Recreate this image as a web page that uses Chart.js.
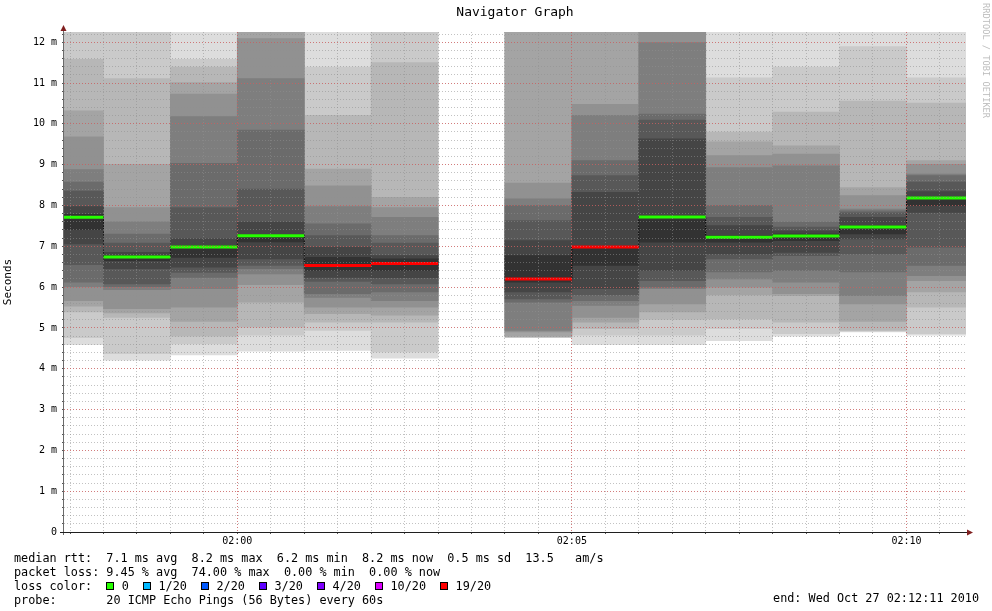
<!DOCTYPE html>
<html>
<head>
<meta charset="utf-8">
<title>Navigator Graph</title>
<script src="https://cdn.jsdelivr.net/npm/chart.js@4.4.1/dist/chart.umd.min.js"></script>
<style>
  body { margin: 0; background: #fff; }
  #wrap { position: relative; width: 992px; height: 611px; overflow: hidden; font-family: 'DejaVu Sans Mono', monospace; }
  #graph { position: absolute; left: 0; top: 0; }
  .line { position: absolute; left: 14px; font-size: 11.8px; line-height: 14px; white-space: pre; color: #000; }
  .sq { display: inline-block; width: 8px; height: 8px; border: 1px solid #000; box-sizing: border-box; margin-right: 7.4px; }
  #end { position: absolute; right: 13px; top: 591px; font-size: 11.8px; line-height: 14px; white-space: pre; }
  #watermark { position: absolute; left: 991px; top: 3px; font-size: 8.7px; line-height: 10px; color: #bdbdbd;
               white-space: pre; transform: rotate(90deg); transform-origin: left top; }
</style>
</head>
<body>
<div id="wrap">
  <canvas id="graph" width="992" height="611"></canvas>
  <div id="legend"></div>
  <div id="end">end: Wed Oct 27 02:12:11 2010</div>
  <div id="watermark">RRDTOOL / TOBI OETIKER</div>
</div>
<script>
// one column per minute (minutes after midnight), smoke = 20 sorted pings in ms
const columnStart = [117, 118, 119, 120, 121, 122, 123, 124, 125, 126, 127, 128, 129, 130];
const pings = [
  [4.59, 4.76, 5.39, 5.53, 5.67, 6.01, 6.12, 6.55, 7.06, 7.41, 7.78, 7.97, 8.35, 8.57, 8.88, 9.68, 10.32, 11.58, 12.5, 13.0],
  [4.21, 4.37, 5.26, 5.37, 5.47, 5.94, 6.01, 6.08, 6.45, 6.65, 6.77, 6.85, 7.08, 7.30, 7.60, 7.95, 9.01, 11.11, 12.4, 13.0],
  [4.34, 4.61, 4.80, 5.16, 5.51, 5.96, 6.24, 6.36, 6.49, 6.73, 7.02, 7.18, 7.95, 9.03, 10.18, 10.73, 11.01, 11.39, 11.58, 12.6],
  [4.43, 4.82, 5.02, 5.63, 6.06, 6.32, 6.45, 6.53, 6.69, 7.11, 7.28, 7.59, 8.40, 9.85, 11.11, 12.09, 12.5, 12.9, 13.4, 14.0],
  [4.45, 4.94, 5.14, 5.35, 5.51, 5.75, 5.84, 6.14, 6.24, 6.41, 6.73, 6.98, 7.26, 7.55, 7.97, 8.48, 8.89, 10.21, 11.39, 12.6],
  [4.26, 4.41, 5.14, 5.31, 5.51, 5.67, 5.88, 6.08, 6.23, 6.41, 6.69, 6.77, 7.08, 7.26, 7.71, 7.95, 8.20, 11.50, 12.4, 13.0],
  null,
  [4.76, 4.77, 4.78, 4.79, 4.90, 4.94, 5.63, 5.71, 5.88, 6.12, 6.77, 7.14, 7.63, 8.00, 8.16, 8.55, 12.5, 12.8, 13.2, 13.8],
  [4.59, 4.82, 4.98, 5.14, 5.26, 5.55, 5.67, 5.81, 5.96, 6.53, 6.98, 8.32, 8.73, 9.10, 10.21, 10.48, 12.5, 12.9, 13.3, 13.8],
  [4.59, 4.82, 5.21, 5.39, 5.59, 5.96, 6.00, 6.16, 6.41, 7.10, 7.75, 9.63, 10.09, 10.24, 11.99, 12.5, 12.9, 13.3, 13.7, 14.2],
  [4.69, 4.98, 5.22, 5.81, 6.00, 6.20, 6.37, 6.69, 6.81, 7.10, 7.26, 7.51, 7.71, 8.00, 8.93, 9.22, 9.56, 9.80, 11.13, 12.6],
  [4.80, 4.86, 5.14, 5.79, 5.84, 6.12, 6.41, 6.77, 6.85, 7.14, 7.30, 7.38, 7.47, 7.59, 8.97, 9.26, 9.46, 10.29, 11.39, 12.6],
  [4.90, 4.92, 4.94, 5.16, 5.59, 5.79, 6.37, 6.81, 7.18, 7.30, 7.51, 7.71, 7.82, 7.87, 7.91, 8.24, 8.44, 10.56, 11.89, 12.6],
  [4.82, 4.86, 5.51, 5.88, 6.16, 6.28, 6.53, 6.98, 7.83, 8.00, 8.20, 8.34, 8.57, 8.73, 8.77, 9.01, 9.10, 10.51, 11.13, 12.6]
];
const medianRtt = [7.71, 6.74, 6.98, 7.26, 6.53, 6.58, null, 6.20, 6.98, 7.72, 7.22, 7.25, 7.47, 8.18];
const lossPings = [0, 0, 0, 0, 19, 19, null, 19, 19, 0, 0, 0, 0, 0];

const lossThresholds = [0, 1, 2, 3, 4, 10, 19];
const lossLabels = ['0', '1/20', '2/20', '3/20', '4/20', '10/20', '19/20'];
const lossColors = ['#26ff00', '#00b8ff', '#0059ff', '#5e00ff', '#7e00ff', '#dd00ff', '#ff0000'];

const timeTicks = [120, 125, 130];
const xMin = 117.41, xMax = 130.89;
const yMax = 12.25;

const legendLines = [
  'median rtt:  7.1 ms avg  8.2 ms max  6.2 ms min  8.2 ms now  0.5 ms sd  13.5   am/s',
  'packet loss: 9.45 % avg  74.00 % max  0.00 % min  0.00 % now',
  'loss color:  ',
  'probe:       20 ICMP Echo Pings (56 Bytes) every 60s'
];

// ---- legend below the graph
const legendTops = [551.4, 565.1, 578.8, 592.5];
const legend = document.getElementById('legend');
legendLines.forEach((txt, i) => {
  const div = document.createElement('div');
  div.className = 'line';
  div.style.top = legendTops[i] + 'px';
  div.textContent = txt;
  if (i === 2) {
    lossLabels.forEach((lab, j) => {
      const sq = document.createElement('span');
      sq.className = 'sq';
      sq.style.background = lossColors[j];
      div.appendChild(sq);
      div.appendChild(document.createTextNode(lab + '  '));
    });
  }
  legend.appendChild(div);
});

function lossColor(loss) {
  let c = lossColors[0];
  lossThresholds.forEach((t, i) => { if (loss >= t) c = lossColors[i]; });
  return c;
}

function fmtTime(v) {
  const h = Math.floor(v / 60), m = Math.round(v - h * 60);
  return String(h).padStart(2, '0') + ':' + String(m).padStart(2, '0');
}

// ---- smoke: 10 nested bands, outer ones light, inner ones dark
const datasets = [];
for (let b = 0; b < 10; b++) {
  const g = Math.floor(190 / 10 * (10 - (b + 1))) + 50;
  const pts = [];
  columnStart.forEach((t, k) => {
    if (pings[k]) pts.push({ x: t + 0.5, y: [pings[k][b], pings[k][19 - b]] });
  });
  datasets.push({
    type: 'bar',
    data: pts,
    backgroundColor: `rgb(${g},${g},${g})`,
    borderWidth: 0,
    grouped: false,
    barPercentage: 1,
    categoryPercentage: 1,
    order: 30 - b,
    clip: 0
  });
}

// dotted connector between medians
const stepPts = columnStart.map((t, k) => ({ x: t, y: medianRtt[k] }));
stepPts.push({ x: columnStart[columnStart.length - 1] + 1, y: medianRtt[medianRtt.length - 1] });
datasets.push({
  type: 'line',
  data: stepPts,
  stepped: true,
  borderColor: '#000',
  borderWidth: 1,
  borderDash: [1, 1],
  pointRadius: 0,
  spanGaps: false,
  order: 2,
  clip: 0
});

// median line coloured by packet loss
const medianPts = [];
columnStart.forEach((t, k) => {
  if (medianRtt[k] == null) return;
  medianPts.push({ x: t, y: medianRtt[k], loss: lossPings[k] },
                 { x: t + 1, y: medianRtt[k], loss: lossPings[k] },
                 { x: t + 1, y: null, loss: lossPings[k] });
});
datasets.push({
  type: 'line',
  data: medianPts,
  borderColor: lossColors[0],
  segment: { borderColor: ctx => lossColor(medianPts[ctx.p0DataIndex].loss) },
  borderWidth: 3,
  borderCapStyle: 'butt',
  pointRadius: 0,
  spanGaps: false,
  order: 1,
  clip: 0
});

const minorGrid = 'rgba(143,143,143,0.55)';
const majorGrid = 'rgba(222,79,79,0.6)';

// axis lines with arrows, like rrdtool draws them
const axisArrows = {
  id: 'axisArrows',
  afterDraw(chart) {
    const { ctx, chartArea: a } = chart;
    ctx.save();
    ctx.lineWidth = 1;
    ctx.strokeStyle = '#6a6a6a';
    ctx.beginPath();
    ctx.moveTo(a.left - 0.5, a.top - 4);
    ctx.lineTo(a.left - 0.5, a.bottom + 3);
    ctx.stroke();
    ctx.strokeStyle = '#1f1f1f';
    ctx.beginPath();
    ctx.moveTo(a.left - 4, a.bottom + 0.5);
    ctx.lineTo(a.right + 2, a.bottom + 0.5);
    ctx.stroke();
    ctx.fillStyle = '#801f1f';
    ctx.beginPath();
    ctx.moveTo(a.left - 0.5, a.top - 7);
    ctx.lineTo(a.left - 3.5, a.top - 1);
    ctx.lineTo(a.left + 2.5, a.top - 1);
    ctx.closePath();
    ctx.fill();
    ctx.beginPath();
    ctx.moveTo(a.right + 7, a.bottom + 0.5);
    ctx.lineTo(a.right + 1, a.bottom - 2.5);
    ctx.lineTo(a.right + 1, a.bottom + 3.5);
    ctx.closePath();
    ctx.fill();
    ctx.restore();
  }
};

Chart.defaults.font.family = "'DejaVu Sans Mono', monospace";
Chart.defaults.color = '#000';

new Chart(document.getElementById('graph'), {
  type: 'bar',
  data: { datasets },
  plugins: [axisArrows],
  options: {
    responsive: false,
    animation: false,
    devicePixelRatio: 1,
    events: [],
    layout: { padding: { left: 0, top: 0, right: 26, bottom: 59 } },
    plugins: {
      legend: { display: false },
      tooltip: { enabled: false },
      title: {
        display: true,
        text: 'Navigator Graph',
        fullSize: false,
        color: '#000',
        font: { size: 13, weight: 'normal' },
        padding: { top: 5, bottom: 11.4 }
      }
    },
    scales: {
      x: {
        type: 'linear', position: 'bottom', weight: 1, min: xMin, max: xMax, offset: false,
        afterBuildTicks: s => { s.ticks = timeTicks.map(v => ({ value: v })); },
        afterFit: s => { s.height = 20; },
        ticks: { callback: fmtTime, font: { size: 10 }, padding: 3, maxRotation: 0, autoSkip: false },
        grid: { color: majorGrid, drawTicks: false, offset: false, z: 2 },
        border: { display: false, dash: [1, 2] }
      },
      xMinor: {
        type: 'linear', position: 'bottom', weight: 0, min: xMin, max: xMax, offset: false,
        afterFit: s => { s.height = 0; },
        ticks: { display: false, stepSize: 0.5, includeBounds: false, maxTicksLimit: 1000 },
        grid: { color: minorGrid, drawTicks: true, tickLength: 2, tickColor: '#555', offset: false, z: 1 },
        border: { display: false, dash: [1, 2] }
      },
      y: {
        type: 'linear', position: 'left', weight: 1, min: 0, max: yMax,
        afterFit: s => { s.width = 64; },
        ticks: { stepSize: 1, includeBounds: false, font: { size: 10 }, padding: 7,
                 callback: v => v === 0 ? '0' : v + ' m' },
        title: { display: true, text: 'Seconds', font: { size: 11 }, padding: { top: 2, bottom: 0 } },
        grid: { color: majorGrid, drawTicks: false, z: 2 },
        border: { display: false, dash: [1, 2] }
      },
      yMinor: {
        type: 'linear', position: 'left', weight: 0, min: 0, max: yMax,
        afterFit: s => { s.width = 0; },
        ticks: { display: false, stepSize: 0.2, includeBounds: false, maxTicksLimit: 1000 },
        grid: { color: minorGrid, drawTicks: true, tickLength: 2, tickColor: '#555', z: 1 },
        border: { display: false, dash: [1, 2] }
      }
    }
  }
});
</script>
</body>
</html>
